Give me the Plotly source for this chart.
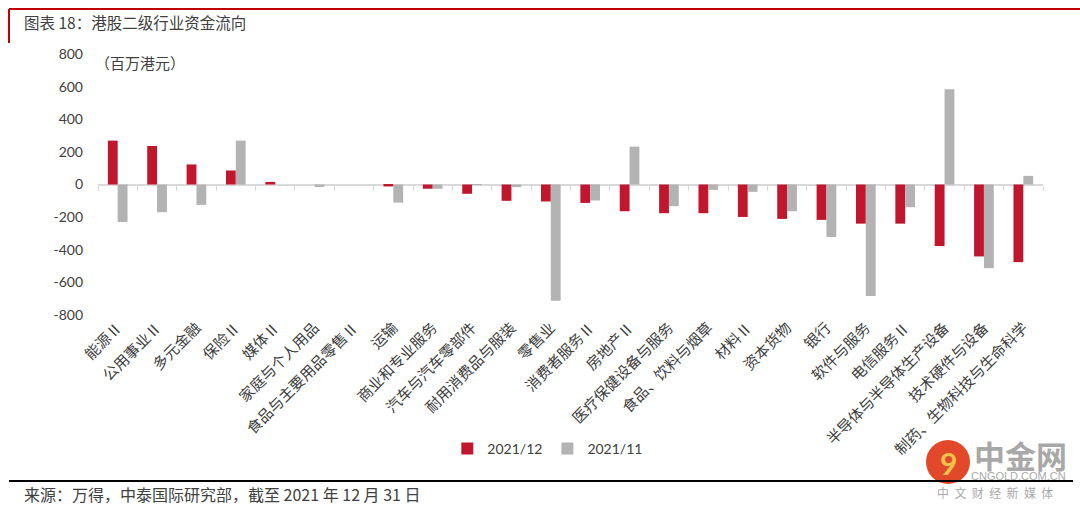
import plotly.graph_objects as go

categories = ["能源Ⅱ", "公用事业Ⅱ", "多元金融", "保险Ⅱ", "媒体Ⅱ", "家庭与个人用品",
              "食品与主要用品零售Ⅱ", "运输", "商业和专业服务", "汽车与汽车零部件",
              "耐用消费品与服装", "零售业", "消费者服务Ⅱ", "房地产Ⅱ", "医疗保健设备与服务",
              "食品、饮料与烟草", "材料Ⅱ", "资本货物", "银行", "软件与服务", "电信服务Ⅱ",
              "半导体与半导体生产设备", "技术硬件与设备", "制药、生物科技与生命科学"]
flow_2021_12 = [269, 236, 123, 86, 16, 0, 0, -12, -26, -57, -100, -104, -113, -164,
                -176, -176, -199, -211, -217, -240, -240, -377, -441, -476]
flow_2021_11 = [-230, -170, -125, 269, 0, -15, 0, -111, -26, -3, -16, -713, -98, 232,
                -133, -33, -45, -164, -322, -683, -139, 584, -513, 53]
y_ticks = [800, 600, 400, 200, 0, -200, -400, -600, -800]
series_names = ["2021/12", "2021/11"]

W, H = 1080, 509
L, R, T, B = 98, 37, 54, 194
PW, PH = W - L - R, H - T - B


def px(x):
    return (x - L) / PW


def py(y):
    return (H - B - y) / PH


RED = "#C0172F"
GREY = "#B3B3B3"
TXT = "#404040"
CJK = "Noto Sans CJK SC"

fig = go.Figure()
fig.add_trace(go.Bar(x=categories, y=flow_2021_12, name=series_names[0],
                     marker=dict(color=RED, line=dict(width=0))))
fig.add_trace(go.Bar(x=categories, y=flow_2021_11, name=series_names[1],
                     marker=dict(color=GREY, line=dict(width=0))))
# invisible trace to carry the tick-mark axis at zero
fig.add_trace(go.Scatter(x=categories, y=[0] * len(categories), xaxis="x2", mode="markers",
                         marker=dict(opacity=0), showlegend=False, hoverinfo="skip"))

fig.update_layout(
    width=W, height=H,
    margin=dict(l=L, r=R, t=T, b=B, autoexpand=False),
    paper_bgcolor="white", plot_bgcolor="white",
    barmode="group", bargap=0.5, bargroupgap=0,
    font=dict(family="Lato", color=TXT),
    showlegend=True,
    legend=dict(orientation="h", x=0.476, xanchor="center", y=py(449), yanchor="middle",
                font=dict(family="Lato", size=14, color=TXT), traceorder="normal",
                itemwidth=30, bgcolor="rgba(0,0,0,0)"),
    xaxis=dict(type="category", categoryorder="array", categoryarray=categories,
               range=[-0.5, len(categories) - 0.5], automargin=False,
               tickangle=-45, tickfont=dict(family=CJK, size=15, color=TXT),
               showgrid=False, showline=False, ticks="", zeroline=False),
    xaxis2=dict(type="category", categoryorder="array", categoryarray=categories,
                range=[-0.5, len(categories) - 0.5], overlaying="x", anchor="free",
                position=0.5, side="bottom", showticklabels=False, showgrid=False,
                showline=False, zeroline=False, ticks="outside", tickson="boundaries",
                ticklen=5, tickcolor="#D9D9D9", tickwidth=1, automargin=False),
    yaxis=dict(range=[-800, 800], tickvals=y_ticks, ticktext=[str(v) for v in y_ticks],
               tickfont=dict(family="Lato", size=14, color=TXT), showgrid=False,
               showline=False, zeroline=True, zerolinecolor="#D9D9D9", zerolinewidth=1.5,
               ticks="", ticklabelstandoff=14, automargin=False),
)

ann = [
    dict(text="图表 18：港股二级行业资金流向", x=px(22), y=py(22), xanchor="left", yanchor="middle",
         font=dict(family=CJK, size=15.5, color=TXT)),
    dict(text="（百万港元）", x=px(140), y=py(62), xanchor="center", yanchor="middle",
         font=dict(family=CJK, size=15, color=TXT)),
    dict(text="来源：万得，中泰国际研究部，截至 2021 年 12 月 31 日", x=px(22), y=py(494),
         xanchor="left", yanchor="middle", font=dict(family=CJK, size=16, color=TXT)),
    dict(text="<b>9</b>", x=px(948), y=py(463), xanchor="center", yanchor="middle",
         font=dict(family="Lato", size=30, color="#F6C24A")),
    dict(text="<b>中金网</b>", x=px(1020), y=py(454), xanchor="center", yanchor="middle",
         font=dict(family=CJK, size=31, color="#A8A8A8")),
    dict(text="CNGOLD.COM.CN", x=px(1018), y=py(476), xanchor="center", yanchor="middle",
         font=dict(family="Liberation Sans", size=11, color="#AAAAAA")),
    dict(text="中  文  财  经  新  媒  体", x=px(995), y=py(492), xanchor="center", yanchor="middle",
         font=dict(family=CJK, size=12, color="#AAAAAA")),
]
for a in ann:
    a.update(xref="paper", yref="paper", showarrow=False)
fig.update_layout(annotations=ann)

shapes = [
    dict(type="line", x0=px(9), x1=px(1080), y0=py(9), y1=py(9), line=dict(color="#C00000", width=2)),
    dict(type="line", x0=px(9), x1=px(9), y0=py(9), y1=py(43), line=dict(color="#C00000", width=2)),
    dict(type="line", x0=px(9), x1=px(1073), y0=py(481), y1=py(481), line=dict(color="#000000", width=2)),
    dict(type="circle", x0=px(926), x1=px(970), y0=py(440), y1=py(484),
         fillcolor="#E2492A", line=dict(width=0), layer="below"),
]
for s in shapes:
    s.update(xref="paper", yref="paper")
fig.update_layout(shapes=shapes)

fig.write_html("out.html", config={"displayModeBar": False},
               post_script="document.body.style.margin='0';")
